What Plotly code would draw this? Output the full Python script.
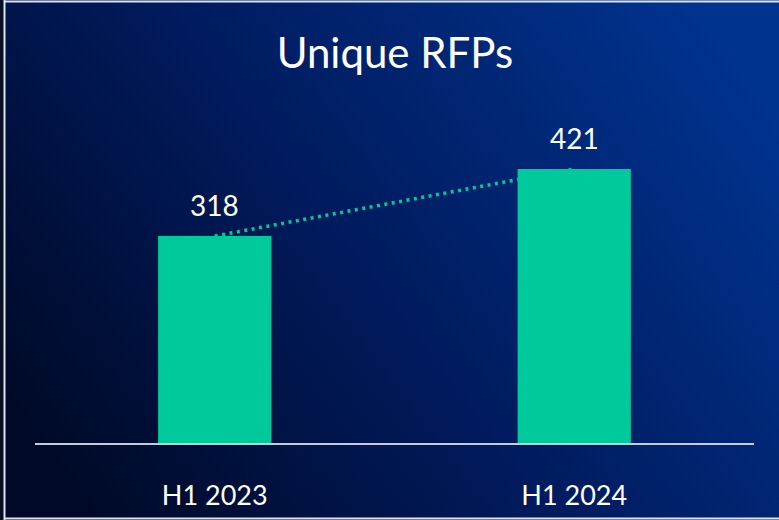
import base64
import plotly.graph_objects as go

# data
periods = ["H1 2023", "H1 2024"]
rfps = [318, 421]

bar_color = "#00C99C"
label_font = "Lato, Calibri, sans-serif"

# background gradient as an svg image
svg = (
    '<svg xmlns="http://www.w3.org/2000/svg" width="779" height="520" preserveAspectRatio="none">'
    '<defs><linearGradient id="g" x1="0" y1="0.75" x2="1" y2="0.25">'
    '<stop offset="0" stop-color="#000a28"/>'
    '<stop offset="0.45" stop-color="#001a5c"/>'
    '<stop offset="1" stop-color="#00338e"/>'
    '</linearGradient></defs>'
    '<rect width="779" height="520" fill="url(#g)"/>'
    '</svg>'
)
bg_src = "data:image/svg+xml;base64," + base64.b64encode(svg.encode()).decode()

fig = go.Figure()

fig.add_trace(go.Bar(
    x=periods,
    y=rfps,
    width=0.315,
    marker=dict(color=bar_color, line=dict(width=0)),
    hoverinfo="skip",
    showlegend=False,
))

# dotted trend line between bar tops
fig.add_trace(go.Scatter(
    x=periods,
    y=rfps,
    mode="lines",
    line=dict(color=bar_color, width=3.5, dash="3px,4.5px"),
    hoverinfo="skip",
    showlegend=False,
))

annotations = [
    dict(x=p, y=v, xref="x", yref="y", text=str(v), showarrow=False,
         yshift=31, font=dict(family=label_font, size=28, color="white"))
    for p, v in zip(periods, rfps)
]

fig.update_layout(
    width=779,
    height=520,
    margin=dict(l=0, r=0, t=0, b=0),
    paper_bgcolor="#0a1024",
    plot_bgcolor="rgba(0,0,0,0)",
    title=dict(text="Unique RFPs", x=0.507, xanchor="center", y=0.898, yanchor="middle",
               font=dict(family=label_font, size=42, color="white")),
    xaxis=dict(
        domain=[35 / 779, 754 / 779],
        showline=True, linecolor="#c4cbdb", linewidth=2,
        showgrid=False, zeroline=False,
        ticks="", ticklabelstandoff=28,
        tickfont=dict(family=label_font, size=27, color="white"),
        fixedrange=True,
    ),
    yaxis=dict(
        domain=[(520 - 443) / 520, (520 - 78) / 520],
        range=[0, 365 / 0.6508],
        visible=False,
        fixedrange=True,
    ),
    annotations=annotations,
    images=[dict(source=bg_src, xref="paper", yref="paper", x=4 / 779, y=1, sizex=1, sizey=1,
                 xanchor="left", yanchor="top", sizing="stretch", layer="below")],
    shapes=[
        dict(type="line", xref="paper", yref="paper", x0=4.5 / 779, x1=1, y0=1 - 1.5 / 520, y1=1 - 1.5 / 520,
             line=dict(color="#dfe3ec", width=2)),
        dict(type="line", xref="paper", yref="paper", x0=4.5 / 779, x1=4.5 / 779, y0=0, y1=1,
             line=dict(color="#dfe3ec", width=2)),
        dict(type="line", xref="paper", yref="paper", x0=4.5 / 779, x1=1, y0=1.5 / 520, y1=1.5 / 520,
             line=dict(color="#dfe3ec", width=2)),
    ],
)

# drop the default page margin so the figure fills the window
fig.write_html("out.html", config=dict(displayModeBar=False),
               post_script="document.body.style.margin='0';")
